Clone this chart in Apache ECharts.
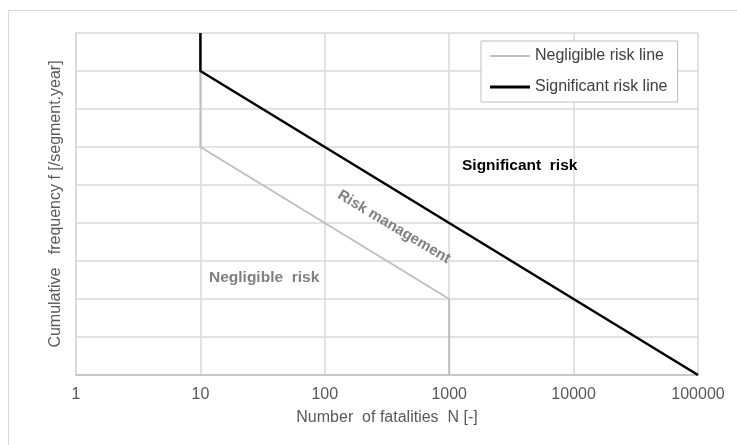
<!DOCTYPE html>
<html>
<head>
<meta charset="utf-8">
<script src="https://cdn.jsdelivr.net/npm/echarts@6/dist/echarts.min.js"></script>
<style>
html,body{margin:0;padding:0;background:#fff;}
#chart{width:737px;height:445px;}
</style>
</head>
<body>
<div id="chart"></div>
<script>
// Data
var xTicks = [1, 10, 100, 1000, 10000, 100000];
var negligibleN = [10, 10, 1000, 1000];
var negligibleF = [8, 6, 2, 0];
var significantN = [10, 10, 100000];
var significantF = [9, 8, 0];
var seriesNames = ['Negligible risk line', 'Significant risk line'];
var regionLabels = ['Significant  risk', 'Negligible  risk', 'Risk management'];
var xName = 'Number  of fatalities  N [-]';
var yName = 'Cumulative   frequency f [/segment.year]';

function pairs(xs, ys) { return xs.map(function (x, i) { return [x, ys[i]]; }); }

var FONT = '"Liberation Sans", Arial, sans-serif';
var chart = echarts.init(document.getElementById('chart'));
chart.setOption({
  animation: false,
  backgroundColor: '#fff',
  grid: { left: 76, right: 39, top: 33, bottom: 70, containLabel: false },
  xAxis: {
    type: 'log', logBase: 10, min: xTicks[0], max: xTicks[xTicks.length - 1],
    name: xName, nameLocation: 'middle', nameGap: 35,
    nameTextStyle: { fontFamily: FONT, fontSize: 16, color: '#595959' },
    axisLine: { show: true, lineStyle: { color: '#bfbfbf', width: 1.5 } },
    axisTick: { show: false },
    axisLabel: { fontFamily: FONT, fontSize: 16, color: '#595959', margin: 12,
      formatter: function (v) { return String(Math.round(v)); } },
    splitLine: { show: true, lineStyle: { color: '#d9d9d9', width: 1.5 } }
  },
  yAxis: {
    type: 'value', min: 0, max: 9, interval: 1,
    name: yName, nameLocation: 'middle', nameGap: 12, nameRotate: 90,
    nameTextStyle: { fontFamily: FONT, fontSize: 16, color: '#595959' },
    axisLine: { show: true, lineStyle: { color: '#d9d9d9', width: 1.5 } },
    axisTick: { show: false },
    axisLabel: { show: false },
    splitLine: { show: true, lineStyle: { color: '#d9d9d9', width: 1.5 } }
  },
  legend: {
    left: 481, top: 41, orient: 'vertical',
    backgroundColor: '#fff', borderColor: '#bfbfbf', borderWidth: 1,
    padding: [7, 10, 7, 9], itemGap: 15, itemWidth: 40, itemHeight: 14,
    textStyle: { fontFamily: FONT, fontSize: 16, color: '#404040' },
    data: [
      { name: seriesNames[0], icon: 'path://M0,0 L40,0 L40,2 L0,2 Z', itemStyle: { color: '#bfbfbf' } },
      { name: seriesNames[1], icon: 'path://M0,0 L40,0 L40,3 L0,3 Z', itemStyle: { color: '#000' } }
    ]
  },
  series: [
    { name: seriesNames[0], type: 'line', symbol: 'none', data: pairs(negligibleN, negligibleF),
      lineStyle: { color: '#bfbfbf', width: 2 }, itemStyle: { color: '#bfbfbf' }, z: 3 },
    { name: seriesNames[1], type: 'line', symbol: 'none', data: pairs(significantN, significantF),
      lineStyle: { color: '#000', width: 2.5 }, itemStyle: { color: '#000' }, z: 4 }
  ],
  graphic: [
    { type: 'rect', shape: { x: 8.5, y: 10.5, width: 760, height: 460 }, style: { fill: 'none', stroke: '#d9d9d9', lineWidth: 1 }, silent: true, z: -10 },
    { type: 'text', left: 462, top: 158, style: { text: regionLabels[0], font: 'bold 15.5px ' + FONT, fill: '#000' }, z: 10 },
    { type: 'text', left: 209, top: 270, style: { text: regionLabels[1], font: 'bold 15.5px ' + FONT, fill: '#808080' }, z: 10 },
    { type: 'text', x: 394, y: 227, rotation: -0.54, style: { text: regionLabels[2], font: 'bold 15px ' + FONT, fill: '#808080', align: 'center', verticalAlign: 'middle' }, z: 10 }
  ]
});
</script>
</body>
</html>
